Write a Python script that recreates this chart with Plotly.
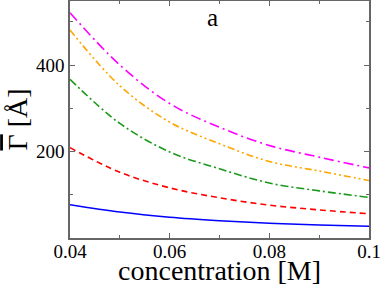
import plotly.graph_objects as go

conc = [0.04, 0.05, 0.06, 0.07, 0.08, 0.09, 0.1]
blue = [77, 60, 48, 40, 34, 30, 27]
red = [209, 152, 116, 93, 76, 65, 56]
green = [367, 265, 199, 160, 127, 109, 94]
orange = [481, 352, 268, 218, 177, 155, 133]
magenta = [521, 400, 311, 256, 214, 187, 162]

series = [
    (blue, "#0000ff", "solid"),
    (red, "#ff0000", "6px,4px"),
    (green, "#1a9a1a", "8px,3px,2px,3px"),
    (orange, "#ffa500", "7px,3px,2px,3px,2px,3px"),
    (magenta, "#ff00ff", "10px,4px,2px,4px"),
]

fig = go.Figure()
for ys, col, dash in series:
    fig.add_trace(go.Scatter(x=conc, y=ys, mode="lines",
                             line=dict(color=col, width=1.6, dash=dash, shape="spline"),
                             showlegend=False))

font = "Times New Roman, Liberation Serif, serif"
fig.update_layout(
    width=382, height=286,
    margin=dict(l=70, r=13, t=1, b=48),
    paper_bgcolor="white", plot_bgcolor="white",
    font=dict(family=font, color="black"),
    annotations=[dict(x=0.0685, y=510, xref="x", yref="y", text="a", showarrow=False,
                      font=dict(size=25, family=font))],
)
fig.update_xaxes(range=[0.04, 0.1], tickvals=[0.04, 0.06, 0.08, 0.1],
                 ticktext=["0.04", "0.06", "0.08", "0.1"], automargin=False,
                 ticks="inside", ticklen=5, tickcolor="#666", showline=True, linecolor="#666",
                 linewidth=1.5, mirror="ticks", showgrid=False, zeroline=False,
                 tickfont=dict(size=19, family=font), ticklabelstandoff=-5,
                 minor=dict(tickvals=[0.05, 0.07, 0.09], ticks="inside", ticklen=3, tickcolor="#666"),
                 title=dict(text="concentration [M]", font=dict(size=28, family=font), standoff=2))
fig.update_yaxes(range=[0, 548], tickvals=[200, 400], automargin=False,
                 ticks="inside", ticklen=5, tickcolor="#666", showline=True, linecolor="#666",
                 linewidth=1.5, mirror="ticks", showgrid=False, zeroline=False,
                 tickfont=dict(size=19, family=font),
                 minor=dict(tickvals=[100, 300, 500], ticks="inside", ticklen=3, tickcolor="#666"),
                 title=dict(text="<span style='text-decoration:overline'>\u0393</span> [\u00c5]",
                            font=dict(size=28, family=font), standoff=0))
fig.write_html("out.html", config={"displayModeBar": False},
               post_script="document.body.style.margin='0';")
